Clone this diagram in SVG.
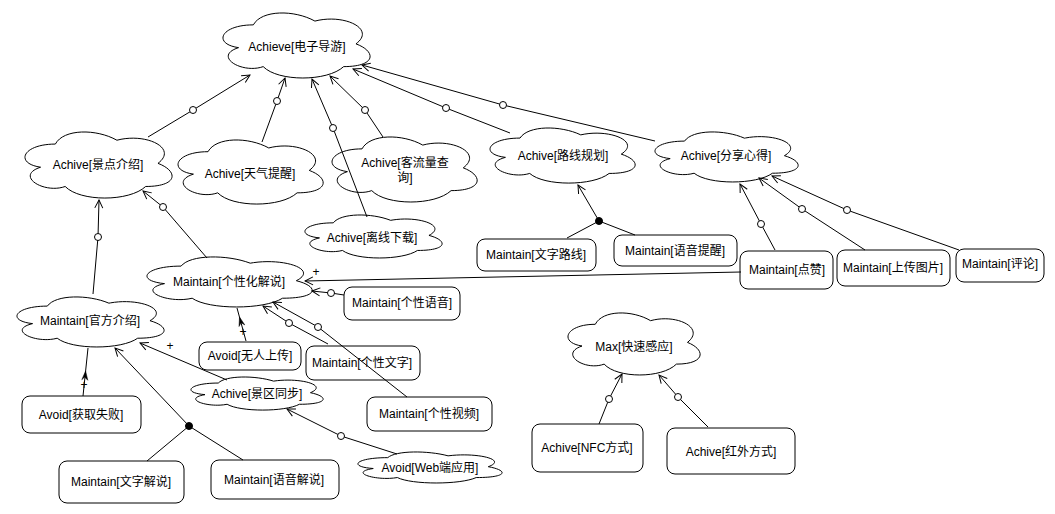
<svg xmlns="http://www.w3.org/2000/svg" width="1055" height="514" viewBox="0 0 1055 514">
<style>
text{font-family:"Liberation Sans","Noto Sans CJK SC",sans-serif;font-size:12px;fill:#000;text-anchor:middle}
.box{fill:#fff;stroke:#000;stroke-width:1}
.knot{fill:#fff;stroke:#000;stroke-width:1}
.dot{fill:#000;stroke:#000}
#connectors path{fill:none;stroke:#000;stroke-width:1}
</style>
<defs>
<path id="cloud" d="M25,25 C5,25 0,50 16,55 C0,66 18,90 31,80 C40,100 70,100 80,80 C100,80 100,60 87.5,50 C100,30 80,10 62.5,20 C50,5 30,5 25,25 Z" fill="#fff" stroke="#000" stroke-width="1" vector-effect="non-scaling-stroke"/>
<marker id="open" viewBox="0 0 10 10" markerWidth="10" markerHeight="10" refX="9" refY="5" orient="auto" markerUnits="userSpaceOnUse">
<path d="M1,1 L9,5 L1,9" fill="none" stroke="#000" stroke-width="1"/>
</marker>
</defs>
<rect width="1055" height="514" fill="#fff"/>

<g id="n-dianzidaoyou"><use href="#cloud" transform="translate(212.3,5.9) scale(1.642,0.759)"/><text x="297" y="51">Achieve[电子导游]</text></g>
<g id="n-jingdianjieshao"><use href="#cloud" transform="translate(14.3,124.8) scale(1.642,0.771)"/><text x="98" y="169">Achive[景点介绍]</text></g>
<g id="n-tianqitixing"><use href="#cloud" transform="translate(167.5,133) scale(1.62,0.748)"/><text x="250" y="178">Achive[天气提醒]</text></g>
<g id="n-keliuliang"><use href="#cloud" transform="translate(321.5,129.9) scale(1.62,0.759)"/><text x="405" y="167">Achive[客流量查<tspan x="405" y="182">询]</tspan></text></g>
<g id="n-lixianxiazai"><use href="#cloud" transform="translate(295,210.3) scale(1.531,0.502)"/><text x="372" y="242">Achive[离线下载]</text></g>
<g id="n-luxianguihua"><use href="#cloud" transform="translate(479.5,122) scale(1.62,0.643)"/><text x="563" y="160">Achive[路线规划]</text></g>
<g id="n-fenxiang"><use href="#cloud" transform="translate(644.6,126.5) scale(1.598,0.584)"/><text x="726" y="160">Achive[分享心得]</text></g>
<g id="n-gexinghua"><use href="#cloud" transform="translate(135,251.5) scale(1.844,0.584)"/><text x="229" y="286">Maintain[个性化解说]</text></g>
<g id="n-guanfang"><use href="#cloud" transform="translate(6.3,291.5) scale(1.642,0.584)"/><text x="90" y="325">Maintain[官方介绍]</text></g>
<g id="n-jingqutongbu"><use href="#cloud" transform="translate(181.4,373.4) scale(1.475,0.386)"/><text x="257" y="398">Achive[景区同步]</text></g>
<g id="n-web"><use href="#cloud" transform="translate(347.5,448.6) scale(1.609,0.362)"/><text x="430" y="472">Avoid[Web端应用]</text></g>
<g id="n-kuaisu"><use href="#cloud" transform="translate(558.4,306.2) scale(1.475,0.724)"/><text x="634" y="351">Max[快速感应]</text></g>

<g id="n-wenziluxian"><rect class="box" x="477" y="239" width="119" height="32" rx="8"/><text x="536" y="259">Maintain[文字路线]</text></g>
<g id="n-yuyintixing"><rect class="box" x="614" y="235" width="123" height="31" rx="8"/><text x="675" y="255">Maintain[语音提醒]</text></g>
<g id="n-dianzan"><rect class="box" x="740" y="251" width="93" height="38" rx="8"/><text x="787" y="274">Maintain[点赞]</text></g>
<g id="n-shangchuan"><rect class="box" x="837" y="250" width="113" height="36" rx="8"/><text x="893" y="272">Maintain[上传图片]</text></g>
<g id="n-pinglun"><rect class="box" x="956" y="249" width="88" height="33" rx="8"/><text x="1000" y="268">Maintain[评论]</text></g>
<g id="n-gexingyuyin"><rect class="box" x="344" y="287" width="116" height="33" rx="8"/><text x="402" y="307">Maintain[个性语音]</text></g>
<g id="n-wurenshangchuan"><rect class="box" x="199" y="342" width="102" height="28" rx="8"/><text x="250" y="360">Avoid[无人上传]</text></g>
<g id="n-gexingwenzi"><rect class="box" x="306" y="346" width="114" height="34" rx="8"/><text x="362" y="367">Maintain[个性文字]</text></g>
<g id="n-gexingshipin"><rect class="box" x="367" y="397" width="125" height="34" rx="8"/><text x="429" y="418">Maintain[个性视频]</text></g>
<g id="n-huoqushibai"><rect class="box" x="22" y="396" width="119" height="37" rx="8"/><text x="81" y="419">Avoid[获取失败]</text></g>
<g id="n-wenzijieshuo"><rect class="box" x="59" y="461" width="125" height="42" rx="8"/><text x="121" y="486">Maintain[文字解说]</text></g>
<g id="n-yuyinjieshuo"><rect class="box" x="211" y="460" width="128" height="39" rx="8"/><text x="274" y="484">Maintain[语音解说]</text></g>
<g id="n-nfc"><rect class="box" x="532" y="424" width="111" height="48" rx="8"/><text x="587" y="452">Achive[NFC方式]</text></g>
<g id="n-hongwai"><rect class="box" x="667" y="428" width="128" height="46" rx="8"/><text x="731" y="456">Achive[红外方式]</text></g>

<g id="connectors">
<path d="M148,137 L193,110 L250,75" marker-end="url(#open)"/>
<path d="M262,142 L277,101 L285,78" marker-end="url(#open)"/>
<path d="M367,217 L333,128 L312,79" marker-end="url(#open)"/>
<path d="M383,137 L365,110 L330,76" marker-end="url(#open)"/>
<path d="M510,133 L446,108 L353,69" marker-end="url(#open)"/>
<path d="M655,141 L503,105 L362,65" marker-end="url(#open)"/>
<path d="M93,294 L98,237 L99,200" marker-end="url(#open)"/>
<path d="M207,258 L163,207 L143,191" marker-end="url(#open)"/>
<path d="M741,272 L305,281" marker-end="url(#open)"/>
<path d="M344,295 L331,293 L312,291" marker-end="url(#open)"/>
<path d="M328,344 L289,323 L263,306" marker-end="url(#open)"/>
<path d="M407,397 L318,327 L273,302" marker-end="url(#open)"/>
<path d="M775,250 L761,224 L740,184" marker-end="url(#open)"/>
<path d="M865,250 L802,209 L759,178" marker-end="url(#open)"/>
<path d="M959,250 L847,210 L772,176" marker-end="url(#open)"/>
<path d="M227,380 L140,343" marker-end="url(#open)"/>
<path d="M397,454 L341,436 L287,409" marker-end="url(#open)"/>
<path d="M83,396 L88,348"/>
<path d="M246,341 L237,308"/>
<path d="M599,221 L567,238 M599,221 L635,235"/>
<path d="M599,221 L578,185" marker-end="url(#open)"/>
<path d="M189,426 L147,461 M189,426 L243,460"/>
<path d="M189,426 L115,348" marker-end="url(#open)"/>
<path d="M599,424 L609,399 L622,374" marker-end="url(#open)"/>
<path d="M708,427 L678,397 L659,375" marker-end="url(#open)"/>
<polygon points="85.6,371 87.8,380.3 84.6,377 81.8,379.7" fill="#000" stroke="#000" stroke-width="0.5"/>
<polygon points="239.5,317 244.8,324.9 241.1,322.8 239,326.5" fill="#000" stroke="#000" stroke-width="0.5"/>
<circle class="knot" cx="193" cy="110" r="3.5"/>
<circle class="knot" cx="277" cy="101" r="3.5"/>
<circle class="knot" cx="333" cy="128" r="3.5"/>
<circle class="knot" cx="365" cy="110" r="3.5"/>
<circle class="knot" cx="446" cy="108" r="3.5"/>
<circle class="knot" cx="503" cy="105" r="3.5"/>
<circle class="knot" cx="98" cy="237" r="3.5"/>
<circle class="knot" cx="163" cy="207" r="3.5"/>
<circle class="knot" cx="331" cy="293" r="3.5"/>
<circle class="knot" cx="289" cy="323" r="3.5"/>
<circle class="knot" cx="318" cy="327" r="3.5"/>
<circle class="knot" cx="761" cy="224" r="3.5"/>
<circle class="knot" cx="802" cy="209" r="3.5"/>
<circle class="knot" cx="847" cy="210" r="3.5"/>
<circle class="knot" cx="341" cy="436" r="3.5"/>
<circle class="knot" cx="609" cy="399" r="3.5"/>
<circle class="knot" cx="678" cy="397" r="3.5"/>
<circle class="dot" cx="599" cy="221" r="3.5"/>
<circle class="dot" cx="189" cy="426" r="3.5"/>
<text x="316" y="276">+</text>
<text x="170" y="350">+</text>
<text x="84" y="389">+</text>
<text x="243" y="336">+</text>
</g>
</svg>
